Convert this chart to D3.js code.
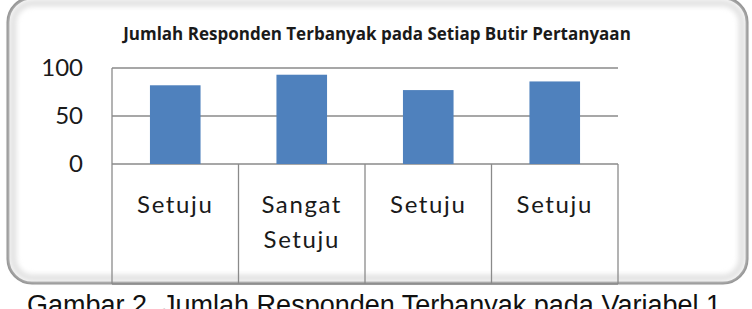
<!DOCTYPE html>
<html>
<head>
<meta charset="utf-8">
<script src="https://cdnjs.cloudflare.com/ajax/libs/d3/7.8.5/d3.min.js"></script>
<style>
  body { margin: 0; background: #fff; }
  svg { display: block; }
  .tick text { font-family: Lato, "Open Sans", sans-serif; }
</style>
</head>
<body>
<svg id="chart" width="752" height="309"></svg>
<script>
// chart values
var categories = ['Setuju', 'Sangat Setuju', 'Setuju', 'Setuju'];
var values = [82, 93, 77, 86];
var yTicks = [0, 50, 100];
var title = 'Jumlah Responden Terbanyak pada Setiap Butir Pertanyaan';
var caption = 'Gambar 2. Jumlah Responden Terbanyak pada Variabel 1';

var svg = d3.select('#chart');
var plotLeft = 112, plotRight = 618, plotTop = 68, base = 164, tableBottom = 284;

// frame with soft bevel
var defs = svg.append('defs');
defs.append('filter').attr('id', 'soft')
  .append('feGaussianBlur').attr('stdDeviation', 2.5);

svg.append('rect')
  .attr('x', 8).attr('y', -2).attr('width', 739).attr('height', 285)
  .attr('rx', 24).attr('fill', '#fff')
  .attr('stroke', '#8c8c8c').attr('stroke-width', 3);
svg.append('rect')
  .attr('x', 13).attr('y', 3).attr('width', 729).attr('height', 275)
  .attr('rx', 20).attr('fill', 'none')
  .attr('stroke', '#e2e2e2').attr('stroke-width', 7)
  .attr('filter', 'url(#soft)');

var x = d3.scaleBand().domain(d3.range(categories.length))
  .range([plotLeft, plotRight]).paddingInner(0.6).paddingOuter(0.3);
var xCell = d3.scaleBand().domain(d3.range(categories.length)).range([plotLeft, plotRight]);
var y = d3.scaleLinear().domain([0, 100]).range([base, plotTop]);

// gridlines
svg.append('g').selectAll('line').data(yTicks).join('line')
  .attr('x1', plotLeft).attr('x2', plotRight)
  .attr('y1', function(d) { return y(d); }).attr('y2', function(d) { return y(d); })
  .attr('stroke', '#8a8a8a').attr('stroke-width', 1.3);
svg.append('line').attr('x1', plotLeft).attr('x2', plotLeft)
  .attr('y1', plotTop).attr('y2', base).attr('stroke', '#8a8a8a').attr('stroke-width', 1.3);

// y axis
var yAxis = svg.append('g').attr('transform', 'translate(' + (plotLeft - 29) + ',0)')
  .call(d3.axisLeft(y).tickValues(yTicks).tickSize(0).tickPadding(0));
yAxis.select('.domain').remove();
yAxis.selectAll('text').attr('font-size', 24).attr('fill', '#1a1a1a');

// bars
svg.append('g').selectAll('rect').data(values).join('rect')
  .attr('x', function(d, i) { return x(i); })
  .attr('width', x.bandwidth())
  .attr('y', function(d) { return y(d); })
  .attr('height', function(d) { return base - y(d); })
  .attr('fill', '#4f81bd');

// category table
var tbl = svg.append('g');
xCell.domain().concat([categories.length]).forEach(function(i) {
  var xx = i < categories.length ? xCell(i) : plotRight;
  tbl.append('line').attr('x1', xx).attr('x2', xx)
    .attr('y1', base).attr('y2', tableBottom)
    .attr('stroke', '#8a8a8a').attr('stroke-width', 1.3);
});
tbl.append('line').attr('x1', plotLeft).attr('x2', plotRight)
  .attr('y1', tableBottom).attr('y2', tableBottom)
  .attr('stroke', '#8a8a8a').attr('stroke-width', 1.3);

tbl.selectAll('text').data(categories).join('text')
  .attr('x', function(d, i) { return xCell(i) + xCell.bandwidth() / 2; })
  .attr('y', 213)
  .attr('text-anchor', 'middle')
  .attr('font-family', 'Lato, "Open Sans", sans-serif')
  .attr('font-size', 24)
  .attr('letter-spacing', 1.6)
  .attr('fill', '#1a1a1a')
  .each(function(d) {
    var words = d.split(' ');
    var t = d3.select(this);
    var cx = t.attr('x');
    words.forEach(function(w, k) {
      t.append('tspan').attr('x', cx).attr('dy', k === 0 ? 0 : 35).text(w);
    });
  });

// title
svg.append('text')
  .attr('x', 377).attr('y', 40)
  .attr('text-anchor', 'middle')
  .attr('font-family', '"Open Sans", sans-serif')
  .attr('font-weight', 'bold')
  .attr('font-size', 17)
  .attr('fill', '#1a1a1a')
  .text(title);

// caption
svg.append('text')
  .attr('x', 374).attr('y', 314)
  .attr('text-anchor', 'middle')
  .attr('font-family', '"Liberation Sans", Arial, sans-serif')
  .attr('font-size', 27)
  .attr('fill', '#111')
  .text(caption);
</script>
</body>
</html>
